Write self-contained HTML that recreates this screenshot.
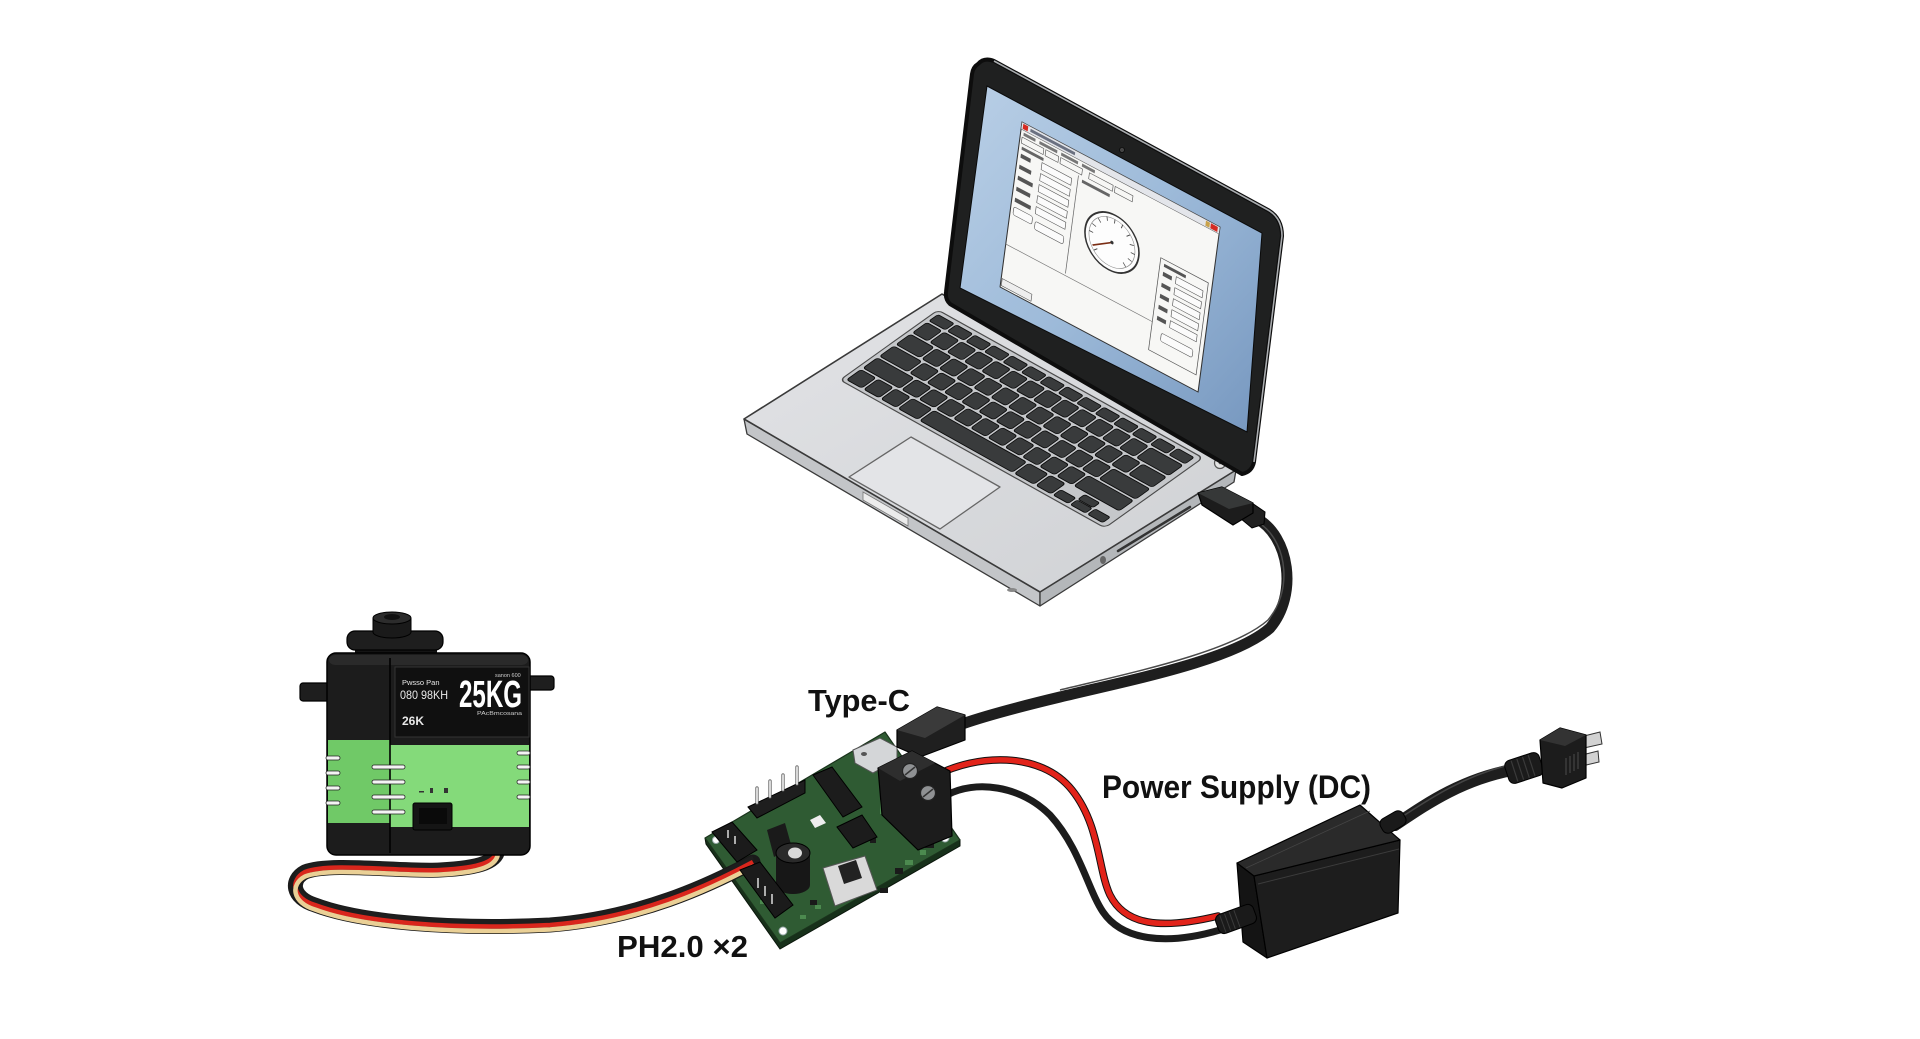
<!DOCTYPE html>
<html><head><meta charset="utf-8"><style>
html,body{margin:0;padding:0;background:#fff;}
svg{display:block;}
.k{fill:#393b3c;stroke:#0c0c0c;stroke-width:.9;}
.lbl{font-family:"Liberation Sans",Arial,sans-serif;font-weight:bold;fill:#111;}
</style></head><body>
<svg width="1920" height="1039" viewBox="0 0 1920 1039" xmlns="http://www.w3.org/2000/svg">
<defs>
<linearGradient id="scr" x1="0" y1="0" x2="1" y2="1">
<stop offset="0" stop-color="#b9cfe6"/><stop offset=".5" stop-color="#9dbad9"/><stop offset="1" stop-color="#7697bf"/>
</linearGradient>
<linearGradient id="base" x1="0" y1="0" x2="1" y2="1">
<stop offset="0" stop-color="#e2e3e6"/><stop offset="1" stop-color="#cfd1d4"/>
</linearGradient>
<rect id="k1" width="17" height="16" rx="2.5" class="k"/>
<path id="sc" d="M440,822 C470,818 495,825 498,845 C500,862 480,868 440,870 C400,872 330,862 305,872 C290,880 292,898 315,905 C360,922 450,930 550,925 C640,918 710,885 753,862" fill="none"/>
</defs>
<rect width="1920" height="1039" fill="#fff"/>

<!-- ===== LAPTOP BASE ===== -->
<polygon points="744,419 1040,592 1040,606 747,434" fill="#c3c5c8" stroke="#3a3a3a" stroke-width="1.3" stroke-linejoin="round"/>
<polygon points="1040,592 1236,470 1234,482 1040,606" fill="#b4b7ba" stroke="#3a3a3a" stroke-width="1.3" stroke-linejoin="round"/>
<polygon points="744,419 942,294 1236,470 1040,592" fill="url(#base)" stroke="#3a3a3a" stroke-width="1.6" stroke-linejoin="round"/>
<polygon points="863,492 908,518 908,526 863,500" fill="#ececec" stroke="#777" stroke-width=".8"/>
<line x1="1118" y1="551" x2="1190" y2="507" stroke="#333" stroke-width="2.5" stroke-linecap="round"/>
<ellipse cx="1103" cy="560" rx="3" ry="4" fill="#666"/>
<ellipse cx="1012" cy="590" rx="5" ry="2" fill="#888"/>
<circle cx="1220" cy="463" r="5.5" fill="#e4e4e4" stroke="#555" stroke-width="1.2"/>
<circle cx="1220" cy="463" r="1.3" fill="#666"/>

<!-- trackpad -->
<polygon points="849,477 911,437 1000,487 940,529" fill="#e3e4e7" stroke="#666" stroke-width="1.3" stroke-linejoin="round"/>

<!-- keyboard -->
<g transform="matrix(0.883,0.493,-0.891,0.636,938,310)">
<rect x="0" y="0" width="300" height="110" rx="5" fill="#c5c7ca" stroke="#4a4a4a" stroke-width="1.2"/>
<g>
<rect class="k" x="4" y="4" width="18.4" height="10" rx="2"/><rect class="k" x="24.9" y="4" width="18.4" height="10" rx="2"/><rect class="k" x="45.8" y="4" width="18.4" height="10" rx="2"/><rect class="k" x="66.7" y="4" width="18.4" height="10" rx="2"/><rect class="k" x="87.6" y="4" width="18.4" height="10" rx="2"/><rect class="k" x="108.5" y="4" width="18.4" height="10" rx="2"/><rect class="k" x="129.3" y="4" width="18.4" height="10" rx="2"/><rect class="k" x="150.2" y="4" width="18.4" height="10" rx="2"/><rect class="k" x="171.1" y="4" width="18.4" height="10" rx="2"/><rect class="k" x="192" y="4" width="18.4" height="10" rx="2"/><rect class="k" x="212.9" y="4" width="18.4" height="10" rx="2"/><rect class="k" x="233.8" y="4" width="18.4" height="10" rx="2"/><rect class="k" x="254.7" y="4" width="18.4" height="10" rx="2"/><rect class="k" x="275.6" y="4" width="18.4" height="10" rx="2"/>
</g>
<g transform="translate(0,16.5)">
<use href="#k1" x="4"/><use href="#k1" x="23.5"/><use href="#k1" x="43"/><use href="#k1" x="62.5"/><use href="#k1" x="82"/><use href="#k1" x="101.5"/><use href="#k1" x="121"/><use href="#k1" x="140.5"/><use href="#k1" x="160"/><use href="#k1" x="179.5"/><use href="#k1" x="199"/><use href="#k1" x="218.5"/><use href="#k1" x="238"/>
<rect class="k" x="257.5" y="0" width="36.5" height="16" rx="2.5"/>
</g>
<g transform="translate(0,35)">
<rect class="k" x="4" y="0" width="26.75" height="16" rx="2.5"/>
<use href="#k1" x="33.25"/><use href="#k1" x="52.75"/><use href="#k1" x="72.25"/><use href="#k1" x="91.75"/><use href="#k1" x="111.25"/><use href="#k1" x="130.75"/><use href="#k1" x="150.25"/><use href="#k1" x="169.75"/><use href="#k1" x="189.25"/><use href="#k1" x="208.75"/><use href="#k1" x="228.25"/><use href="#k1" x="247.75"/>
<rect class="k" x="267.25" y="0" width="26.75" height="16" rx="2.5"/>
</g>
<g transform="translate(0,53.5)">
<rect class="k" x="4" y="0" width="31.6" height="16" rx="2.5"/>
<use href="#k1" x="38.1"/><use href="#k1" x="57.6"/><use href="#k1" x="77.1"/><use href="#k1" x="96.6"/><use href="#k1" x="116.1"/><use href="#k1" x="135.6"/><use href="#k1" x="155.1"/><use href="#k1" x="174.6"/><use href="#k1" x="194.1"/><use href="#k1" x="213.6"/><use href="#k1" x="233.1"/>
<rect class="k" x="252.6" y="0" width="41.4" height="16" rx="2.5"/>
</g>
<g transform="translate(0,72)">
<rect class="k" x="4" y="0" width="41.4" height="16" rx="2.5"/>
<use href="#k1" x="47.9"/><use href="#k1" x="67.4"/><use href="#k1" x="86.9"/><use href="#k1" x="106.4"/><use href="#k1" x="125.9"/><use href="#k1" x="145.4"/><use href="#k1" x="164.9"/><use href="#k1" x="184.4"/><use href="#k1" x="203.9"/><use href="#k1" x="223.4"/>
<rect class="k" x="242.9" y="0" width="51.1" height="16" rx="2.5"/>
</g>
<g transform="translate(0,90.5)">
<use href="#k1" x="4"/><use href="#k1" x="23.5"/><use href="#k1" x="43"/>
<rect class="k" x="62.5" y="0" width="21.9" height="16" rx="2.5"/>
<rect class="k" x="86.9" y="0" width="104.75" height="16" rx="2.5"/>
<rect class="k" x="194.1" y="0" width="21.9" height="16" rx="2.5"/>
<use href="#k1" x="218.5"/>
<rect class="k" x="238" y="7.5" width="17" height="8.5" rx="2"/>
<rect class="k" x="257.5" y="0" width="17" height="7.5" rx="2"/>
<rect class="k" x="257.5" y="8.5" width="17" height="7.5" rx="2"/>
<rect class="k" x="277" y="7.5" width="17" height="8.5" rx="2"/>
</g>
</g>

<!-- ===== LID ===== -->
<path d="M978,64 Q984,57 994,61 L1268,210 Q1282,218 1282,236 L1254,462 Q1252,472 1242,474 L950,304 Q945,299 946,292 L972,74 Q973,67 978,64 Z" fill="#1f2020" stroke="#0d0d0d" stroke-width="4" stroke-linejoin="round"/>
<path d="M994,61 L1268,210 Q1282,218 1282,236 L1254,462" fill="none" stroke="#a9acaf" stroke-width="1.6"/>
<polygon points="987,86 1262,233 1247,432 960,288" fill="url(#scr)" stroke="#0a0a0a" stroke-width="1"/>
<circle cx="1122" cy="150" r="2.5" fill="#444" stroke="#000" stroke-width=".6"/>

<!-- app window -->
<g transform="matrix(0.99,0.525,-0.133,1.0,1022,122)" stroke-linejoin="round">
<rect x="0" y="0" width="200" height="165" fill="#f7f7f5" stroke="#333" stroke-width="1"/>
<rect x="0" y="0" width="200" height="7" fill="#e3e5ea" stroke="#555" stroke-width=".5"/>
<rect x="1.5" y="1" width="5" height="5" fill="#d62a22"/>
<rect x="9" y="2" width="45" height="3" fill="#6a7080"/>
<rect x="186" y="1" width="4" height="5" fill="#c9a24a"/><rect x="191" y="1" width="7" height="5" fill="#d52b22"/>
<g fill="#777">
<rect x="3" y="9" width="12" height="3"/><rect x="19" y="9" width="18" height="3"/><rect x="41" y="9" width="17" height="3"/><rect x="62" y="9" width="13" height="3"/>
</g>
<g fill="none" stroke="#555" stroke-width=".6">
<rect x="2" y="14" width="22" height="6"/><rect x="26" y="14" width="13" height="6"/><rect x="41" y="14" width="22" height="6"/><rect x="70" y="14" width="24" height="6"/><rect x="96" y="14" width="18" height="6"/>
</g>
<rect x="3" y="23" width="22" height="3" fill="#666"/>
<rect x="64" y="24" width="28" height="3" fill="#666"/>
<g fill="#555">
<rect x="3" y="30" width="10" height="4"/><rect x="3" y="41" width="12" height="4"/><rect x="3" y="52" width="15" height="4"/><rect x="3" y="63" width="14" height="4"/><rect x="3" y="74" width="16" height="4"/>
</g>
<g fill="#fbfbfb" stroke="#555" stroke-width=".6">
<rect x="24" y="28" width="30" height="7"/><rect x="24" y="39" width="30" height="7"/><rect x="24" y="50" width="30" height="7"/><rect x="24" y="61" width="30" height="7"/><rect x="24" y="72" width="30" height="7"/>
<rect x="3" y="83" width="19" height="8" rx="2"/><rect x="25" y="86" width="29" height="8" rx="2"/>
</g>
<line x1="60" y1="22" x2="60" y2="120" stroke="#666" stroke-width=".7"/>
<line x1="0" y1="122" x2="148" y2="122" stroke="#777" stroke-width=".7"/>
<circle cx="100" cy="68" r="27" fill="#fdfdfd" stroke="#333" stroke-width="1.6"/>
<circle cx="100" cy="68" r="23" fill="none" stroke="#888" stroke-width=".6"/>
<g stroke="#444" stroke-width=".8">
<line x1="100" y1="45" x2="100" y2="49"/><line x1="116" y1="52" x2="113" y2="55"/><line x1="123" y1="68" x2="119" y2="68"/><line x1="116" y1="84" x2="113" y2="81"/><line x1="84" y1="52" x2="87" y2="55"/><line x1="77" y1="68" x2="81" y2="68"/><line x1="84" y1="84" x2="87" y2="81"/><line x1="108" y1="46" x2="107" y2="50"/><line x1="92" y1="46" x2="93" y2="50"/><line x1="121" y1="60" x2="117" y2="61"/><line x1="121" y1="76" x2="117" y2="75"/><line x1="79" y1="60" x2="83" y2="61"/>
</g>
<line x1="100" y1="68" x2="82" y2="80" stroke="#7a2d14" stroke-width="1.4"/>
<circle cx="100" cy="68" r="1.6" fill="#333"/>
<rect x="148" y="58" width="48" height="92" fill="none" stroke="#555" stroke-width=".7"/>
<rect x="152" y="62" width="22" height="3" fill="#555"/>
<g fill="#555"><rect x="152" y="70" width="9" height="4"/><rect x="152" y="81" width="9" height="4"/><rect x="152" y="92" width="9" height="4"/><rect x="152" y="103" width="9" height="4"/><rect x="152" y="114" width="9" height="4"/></g>
<g fill="#fbfbfb" stroke="#555" stroke-width=".6"><rect x="165" y="68" width="27" height="7"/><rect x="165" y="79" width="27" height="7"/><rect x="165" y="90" width="27" height="7"/><rect x="165" y="101" width="27" height="7"/><rect x="165" y="112" width="27" height="7"/><rect x="158" y="128" width="32" height="8" rx="2"/></g>
<rect x="1" y="156" width="30" height="7" fill="#eee" stroke="#555" stroke-width=".6"/>
</g>

<!-- ===== LAPTOP USB CABLE ===== -->
<path d="M1256,518 C1290,536 1298,595 1270,628 C1234,660 1130,680 1060,697 C1010,709 985,716 962,724" fill="none" stroke="#1e1e1e" stroke-width="11" stroke-linecap="round"/>
<path d="M1262,525 C1288,545 1292,592 1268,620 C1232,652 1130,673 1060,690" fill="none" stroke="#4a4a4a" stroke-width="1.5"/>
<polygon points="1240,507 1252,503 1265,512 1264,524 1252,528 1240,518" fill="#202020" stroke="#000" stroke-width="1"/>
<polygon points="1198,493 1222,487 1253,503 1253,513 1233,525 1202,505" fill="#1c1c1c" stroke="#000" stroke-width="1.2" stroke-linejoin="round"/>
<polygon points="1198,493 1222,487 1253,503 1229,509" fill="#363838"/>

<!-- ===== DC WIRES ===== -->
<path d="M937,775 C975,755 1040,750 1072,790 C1100,825 1098,870 1110,895 C1125,925 1160,930 1218,916" fill="none" stroke="#111" stroke-width="7.5" stroke-linecap="round"/>
<path d="M937,775 C975,755 1040,750 1072,790 C1100,825 1098,870 1110,895 C1125,925 1160,930 1218,916" fill="none" stroke="#e2231a" stroke-width="5.5" stroke-linecap="round"/>
<path d="M947,795 C975,780 1020,785 1050,815 C1080,848 1088,890 1103,912 C1122,940 1165,946 1220,930" fill="none" stroke="#1c1c1c" stroke-width="7" stroke-linecap="round"/>

<!-- ===== POWER SUPPLY ===== -->
<path d="M1395,825 C1425,805 1460,780 1512,770" fill="none" stroke="#1e1e1e" stroke-width="12" stroke-linecap="round"/>
<path d="M1400,818 C1428,800 1460,778 1505,766" fill="none" stroke="#444" stroke-width="1.5"/>
<polygon points="1237,863 1254,876 1267,958 1243,942" fill="#141414" stroke="#000" stroke-width="1.2" stroke-linejoin="round"/>
<polygon points="1254,876 1400,840 1398,913 1267,958" fill="#1d1d1d" stroke="#000" stroke-width="1.2" stroke-linejoin="round"/>
<polygon points="1237,863 1360,805 1400,840 1254,876" fill="#2a2a2a" stroke="#000" stroke-width="1.2" stroke-linejoin="round"/>
<line x1="1258" y1="884" x2="1399" y2="849" stroke="#3c3c3c" stroke-width="1"/>
<line x1="1246" y1="868" x2="1370" y2="811" stroke="#444" stroke-width=".8"/>
<g transform="translate(1393,822) rotate(-30)"><rect x="-13" y="-8" width="26" height="16" rx="6" fill="#1a1a1a" stroke="#000"/></g>
<g transform="translate(1236,919) rotate(-20)">
<rect x="-20" y="-10" width="40" height="20" rx="6" fill="#1a1a1a" stroke="#000"/>
<g stroke="#3a3a3a" stroke-width="1"><line x1="-14" y1="-9" x2="-14" y2="9"/><line x1="-9" y1="-9" x2="-9" y2="9"/><line x1="-4" y1="-9" x2="-4" y2="9"/><line x1="1" y1="-9" x2="1" y2="9"/></g>
</g>
<!-- plug -->
<g transform="translate(1524,768) rotate(-18)">
<rect x="-18" y="-12" width="36" height="24" rx="6" fill="#1b1b1b" stroke="#000"/>
<g stroke="#3a3a3a" stroke-width="1.2"><line x1="-10" y1="-11" x2="-10" y2="11"/><line x1="-4" y1="-11" x2="-4" y2="11"/><line x1="2" y1="-11" x2="2" y2="11"/><line x1="8" y1="-11" x2="8" y2="11"/></g>
</g>
<polygon points="1584,736 1600,732 1602,744 1584,748" fill="#d2d2d2" stroke="#333" stroke-width="1"/>
<polygon points="1582,755 1598,751 1599,762 1582,766" fill="#d2d2d2" stroke="#333" stroke-width="1"/>
<polygon points="1540,740 1560,728 1586,735 1586,778 1562,788 1543,783" fill="#1c1c1c" stroke="#000" stroke-width="1.2" stroke-linejoin="round"/>
<polygon points="1540,740 1560,728 1586,735 1565,746" fill="#333"/>
<g stroke="#444" stroke-width="1.2"><line x1="1566" y1="758" x2="1566" y2="775"/><line x1="1570" y1="756" x2="1570" y2="773"/><line x1="1574" y1="754" x2="1574" y2="771"/><line x1="1578" y1="752" x2="1578" y2="769"/></g>

<!-- ===== BOARD ===== -->
<polygon points="705,838 780,943 960,840 960,846 780,949 706,844" fill="#17301a" stroke="#0b160c" stroke-width="1"/>
<polygon points="705,838 885,732 960,840 780,943" fill="#2f5b33" stroke="#1a331c" stroke-width="1.2" stroke-linejoin="round"/>
<g fill="#4c8a4f">
<rect x="760" y="805" width="10" height="3"/><rect x="880" y="800" width="3" height="14"/><rect x="888" y="808" width="3" height="14"/><rect x="896" y="816" width="3" height="12"/>
<rect x="842" y="862" width="8" height="3"/><rect x="905" y="860" width="8" height="5"/><rect x="920" y="850" width="6" height="5"/>
<rect x="800" y="915" width="6" height="4"/><rect x="815" y="905" width="6" height="4"/><rect x="760" y="900" width="6" height="4"/>
</g>
<g fill="#7dbb7a"><rect x="903" y="805" width="2" height="20"/><rect x="908" y="812" width="2" height="18"/></g>
<g fill="#1a1a1a">
<rect x="895" y="868" width="8" height="6"/><rect x="925" y="842" width="9" height="6"/><rect x="870" y="838" width="6" height="5"/><rect x="810" y="900" width="7" height="5"/><rect x="880" y="888" width="8" height="5"/>
</g>
<circle cx="945" cy="838" r="4" fill="#fff" stroke="#9aa" stroke-width="1"/>
<circle cx="783" cy="931" r="4" fill="#fff" stroke="#9aa" stroke-width="1"/>
<circle cx="716" cy="840" r="3.5" fill="#fff" stroke="#9aa" stroke-width="1"/>

<!-- chips -->
<polygon points="813,775 832,767 862,807 843,817" fill="#1c1c1c" stroke="#000"/>
<polygon points="837,827 862,815 877,837 853,848" fill="#1c1c1c" stroke="#000"/>
<polygon points="810,820 820,815 826,823 815,828" fill="#eee"/>
<polygon points="767,830 785,823 792,848 774,857" fill="#1a1a1a"/>
<!-- switch -->
<polygon points="823,868 865,856 877,890 835,906" fill="#d9d9d9" stroke="#555" stroke-width="1"/>
<polygon points="838,866 856,860 862,878 844,884" fill="#222"/>
<!-- capacitor -->
<path d="M776,853 L776,885 A17,9 0 0 0 810,885 L810,853 Z" fill="#171717"/>
<ellipse cx="793" cy="853" rx="17" ry="10" fill="#2a2a2a" stroke="#000"/>
<ellipse cx="795" cy="853" rx="7" ry="5.5" fill="#d9d9d9"/>
<!-- header pins -->
<polygon points="748,807 805,780 805,793 757,818" fill="#1e1e1e" stroke="#000"/>
<g stroke="#555" stroke-width="3.2" stroke-linecap="round"><line x1="757" y1="803" x2="757" y2="788"/><line x1="770" y1="797" x2="770" y2="781"/><line x1="783" y1="790" x2="783" y2="775"/><line x1="797" y1="784" x2="797" y2="767"/></g>
<g stroke="#e6e6e6" stroke-width="1.8" stroke-linecap="round"><line x1="757" y1="803" x2="757" y2="788"/><line x1="770" y1="797" x2="770" y2="781"/><line x1="783" y1="790" x2="783" y2="775"/><line x1="797" y1="784" x2="797" y2="767"/></g>
<!-- type-c receptacle + plug -->
<polygon points="853,750 880,738 897,747 897,760 873,773 855,763" fill="#d4d6d8" stroke="#555" stroke-width="1"/>
<ellipse cx="864" cy="754" rx="3" ry="2" fill="#555"/>
<polygon points="897,730 937,707 965,715 965,740 920,757 897,747" fill="#1f1f1f" stroke="#000" stroke-width="1.2" stroke-linejoin="round"/>
<polygon points="897,730 937,707 965,715 925,738" fill="#3a3a3a"/>
<!-- terminal block -->
<polygon points="878,768 912,751 950,771 952,836 918,850 882,815" fill="#1c1c1c" stroke="#000" stroke-width="1.2" stroke-linejoin="round"/>
<polygon points="878,768 912,751 935,763 900,781" fill="#2e2e2e"/>
<circle cx="910" cy="771" r="7.5" fill="#8f9193" stroke="#222" stroke-width="1.2"/>
<line x1="905" y1="775" x2="915" y2="767" stroke="#333" stroke-width="1.5"/>
<circle cx="928" cy="793" r="7.5" fill="#8f9193" stroke="#222" stroke-width="1.2"/>
<line x1="923" y1="797" x2="933" y2="789" stroke="#333" stroke-width="1.5"/>

<!-- ===== SERVO CABLE ===== -->
<use href="#sc" stroke="#1a1a1a" stroke-width="15" stroke-linecap="round"/>
<use href="#sc" transform="translate(0,-4.5)" stroke="#1e1e1e" stroke-width="4.5"/>
<use href="#sc" stroke="#d9261c" stroke-width="4.5"/>
<use href="#sc" transform="translate(0,4.5)" stroke="#ead096" stroke-width="4.5"/>

<!-- PH2.0 blocks -->
<polygon points="712,832 732,822 757,850 737,862" fill="#1b1b1b" stroke="#000"/>
<polygon points="740,870 760,862 793,905 775,918" fill="#1b1b1b" stroke="#000"/>
<g stroke="#ddd" stroke-width="1.5"><line x1="728" y1="830" x2="728" y2="838"/><line x1="735" y1="836" x2="735" y2="844"/><line x1="758" y1="878" x2="758" y2="888"/><line x1="765" y1="886" x2="765" y2="896"/><line x1="772" y1="894" x2="772" y2="904"/></g>

<!-- ===== SERVO ===== -->
<rect x="300" y="683" width="60" height="18" rx="3" fill="#1e1e1e" stroke="#000" stroke-width="1.2"/>
<rect x="520" y="676" width="34" height="14" rx="3" fill="#1e1e1e" stroke="#000" stroke-width="1.2"/>
<rect x="355" y="645" width="82" height="14" rx="4" fill="#141414"/>
<rect x="347" y="631" width="96" height="19" rx="8" fill="#1e1e1e" stroke="#000" stroke-width="1.2"/>
<path d="M373,618 L373,632 A19,6 0 0 0 411,632 L411,618 Z" fill="#1a1a1a" stroke="#000"/>
<ellipse cx="392" cy="618" rx="19" ry="6" fill="#2c2c2c" stroke="#000"/>
<ellipse cx="392" cy="617" rx="8" ry="3" fill="#111"/>
<rect x="327" y="653" width="203" height="202" rx="9" fill="#1c1c1c" stroke="#000" stroke-width="1.5"/>
<rect x="329" y="655" width="199" height="10" rx="6" fill="#2a2a2a"/>
<rect x="328" y="740" width="62" height="83" fill="#70c967"/>
<rect x="390" y="745" width="139" height="82" fill="#84da7a"/>
<line x1="390" y1="658" x2="390" y2="853" stroke="#000" stroke-width="1.6"/>
<rect x="395" y="667" width="134" height="70" fill="#101010" stroke="#333" stroke-width="1"/>
<g fill="#f4f4f4" stroke="#222" stroke-width=".8">
<rect x="326" y="756" width="14" height="4" rx="2"/><rect x="326" y="771" width="14" height="4" rx="2"/><rect x="326" y="786" width="14" height="4" rx="2"/><rect x="326" y="801" width="14" height="4" rx="2"/>
<rect x="372" y="765" width="33" height="4" rx="2"/><rect x="372" y="780" width="33" height="4" rx="2"/><rect x="372" y="795" width="33" height="4" rx="2"/><rect x="372" y="810" width="33" height="4" rx="2"/>
<rect x="517" y="751" width="13" height="4" rx="2"/><rect x="517" y="765" width="13" height="4" rx="2"/><rect x="517" y="780" width="13" height="4" rx="2"/><rect x="517" y="795" width="13" height="4" rx="2"/>
</g>
<g fill="#333"><rect x="419" y="791" width="5" height="1.5"/><rect x="430" y="788" width="3" height="5"/><rect x="444" y="788" width="4" height="5"/></g>
<rect x="413" y="803" width="39" height="27" rx="2" fill="#151515" stroke="#000"/>
<rect x="419" y="808" width="28" height="16" fill="#0a0a0a"/>
<g font-family="Liberation Sans,Arial,sans-serif" fill="#e8e8e8">
<text x="402" y="685" font-size="7.5">Pwsso Pan</text>
<text x="400" y="699" font-size="12" textLength="48" lengthAdjust="spacingAndGlyphs">080 98KH</text>
<text x="402" y="725" font-size="12" font-weight="bold" textLength="22" lengthAdjust="spacingAndGlyphs">26K</text>
<text x="459" y="707" font-size="38" font-weight="bold" fill="#fff" textLength="63" lengthAdjust="spacingAndGlyphs">25KG</text>
<text x="495" y="677" font-size="5.5" fill="#ccc">sanon 600</text>
<text x="477" y="715" font-size="5.5" fill="#ccc" textLength="45" lengthAdjust="spacingAndGlyphs">PAcBmcosana</text>
</g>

<!-- ===== LABELS ===== -->
<text class="lbl" x="808" y="711" font-size="31" textLength="102" lengthAdjust="spacingAndGlyphs">Type-C</text>
<text class="lbl" x="1102" y="798" font-size="32" textLength="269" lengthAdjust="spacingAndGlyphs">Power Supply (DC)</text>
<text class="lbl" x="617" y="957" font-size="31" textLength="131" lengthAdjust="spacingAndGlyphs">PH2.0 ×2</text>
</svg>
</body></html>
